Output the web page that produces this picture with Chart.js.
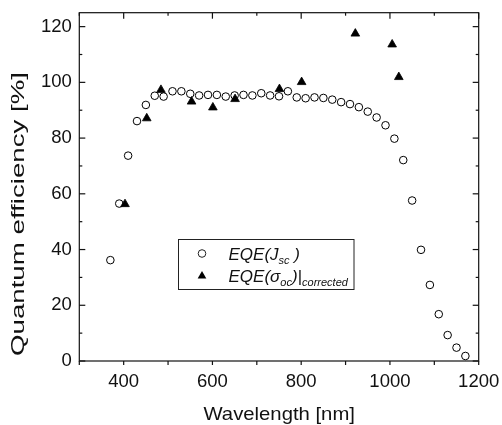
<!DOCTYPE html>
<html>
<head>
<meta charset="utf-8">
<script src="https://cdn.jsdelivr.net/npm/chart.js@4.4.1/dist/chart.umd.min.js"></script>
<style>
  html, body { margin: 0; padding: 0; background: #fff; }
  #wrap { width: 502px; height: 425px; position: relative; }
</style>
</head>
<body>
<div id="wrap"><canvas id="c" width="502" height="425"></canvas></div>
<script>
// EQE measured from the short-circuit current, every 20 nm
const wavelengthJsc = [370, 390, 410, 430, 450, 470, 490, 510, 530, 550, 570, 590, 610, 630, 650,
  670, 690, 710, 730, 750, 770, 790, 810, 830, 850, 870, 890, 910, 930, 950, 970, 990, 1010, 1030,
  1050, 1070, 1090, 1110, 1130, 1150, 1170];
const eqeJsc = [36.2, 56.5, 73.7, 86.1, 91.9, 95.2, 94.9, 96.8, 96.8, 95.9, 95.3, 95.5, 95.5, 94.9, 95.3,
  95.5, 95.3, 96.1, 95.3, 95.0, 96.8, 94.6, 94.3, 94.6, 94.4, 93.8, 92.9, 92.2, 91.1, 89.5, 87.4, 84.6, 79.8, 72.1,
  57.6, 39.9, 27.3, 16.8, 9.3, 4.8, 1.8];

// EQE derived from the open-circuit conductance (corrected)
const wavelengthSigma = [403, 452, 484, 553, 601, 651, 751, 801, 922, 1005, 1020];
const eqeSigma = [56.3, 87.1, 97.3, 93.1, 91.0, 94.0, 97.6, 100.1, 117.5, 113.6, 101.9];

// Axis ticks
const xTickValues = [400, 600, 800, 1000, 1200];
const xMinorTicks = [300, 500, 700, 900, 1100];
const yTickValues = [0, 20, 40, 60, 80, 100, 120];
const yMinorTicks = [10, 30, 50, 70, 90, 110];

const FONT = '"Liberation Sans", Arial, Helvetica, sans-serif';

// Text drawn at a given font size and stretched along its run to a set length
function fitText(ctx, text, cx, cy, size, length, angle) {
  ctx.save();
  ctx.font = size + 'px ' + FONT;
  const w = ctx.measureText(text).width;
  ctx.translate(cx, cy);
  ctx.rotate(angle);
  ctx.scale(length / w, 1);
  ctx.textAlign = 'center';
  ctx.textBaseline = 'middle';
  ctx.fillText(text, 0, 0);
  ctx.restore();
}

// Frame, tick marks, axis titles and the legend box
const decorations = {
  id: 'decorations',
  afterDatasetsDraw(chart) {
    const ctx = chart.ctx;
    const a = chart.chartArea;
    const xs = chart.scales.x, ys = chart.scales.y;
    ctx.save();
    ctx.strokeStyle = '#111';
    ctx.lineWidth = 1.2;
    ctx.strokeRect(a.left, a.top, a.right - a.left, a.bottom - a.top);

    const tick = (x1, y1, x2, y2) => { ctx.beginPath(); ctx.moveTo(x1, y1); ctx.lineTo(x2, y2); ctx.stroke(); };
    const xAll = xTickValues.map(v => [v, 6]).concat(xMinorTicks.map(v => [v, 3]));
    xAll.forEach(([v, len]) => {
      const px = xs.getPixelForValue(v);
      tick(px, a.top, px, a.top + len);
      tick(px, a.bottom, px, a.bottom + 4);
    });
    const yAll = yTickValues.map(v => [v, 6]).concat(yMinorTicks.map(v => [v, 3]));
    yAll.forEach(([v, len]) => {
      const py = ys.getPixelForValue(v);
      tick(a.left, py, a.left + len, py);
      tick(a.right, py, a.right - len, py);
    });

    // axis titles
    ctx.fillStyle = '#111';
    fitText(ctx, 'Wavelength [nm]', 279.2, 414.5, 18.5, 151.5, 0);
    fitText(ctx, 'Quantum efficiency [%]', 18.5, 214, 18.5, 284, -Math.PI / 2);

    // legend
    ctx.lineWidth = 1;
    ctx.strokeStyle = '#222';
    ctx.strokeRect(178.5, 239.5, 175.5, 50);
    ctx.beginPath();
    ctx.arc(202, 253.5, 3.8, 0, Math.PI * 2);
    ctx.stroke();
    ctx.beginPath();
    const tr = 5, tx = 202, ty = 276;
    ctx.moveTo(tx, ty - tr);
    ctx.lineTo(tx + tr * Math.sin(2 * Math.PI / 3), ty + tr / 2);
    ctx.lineTo(tx - tr * Math.sin(2 * Math.PI / 3), ty + tr / 2);
    ctx.closePath();
    ctx.fillStyle = '#000';
    ctx.fill();

    ctx.textAlign = 'left';
    ctx.textBaseline = 'alphabetic';
    ctx.fillStyle = '#111';
    const big = 'italic 17px ' + FONT, small = 'italic 11px ' + FONT;
    const run = (parts, x, y) => {
      parts.forEach(([txt, sub]) => {
        ctx.font = sub ? small : big;
        ctx.fillText(txt, x, y + (sub ? 4 : 0));
        x += ctx.measureText(txt).width;
      });
    };
    run([['EQE(J', 0], ['sc', 1], [' )', 0]], 228.5, 260);
    run([['EQE(\u03C3', 0], ['oc', 1], [')|', 0], ['corrected', 1]], 228.5, 282);
    ctx.restore();
  }
};

new Chart(document.getElementById('c'), {
  type: 'scatter',
  data: {
    datasets: [
      {
        label: 'EQE(Jsc)',
        data: wavelengthJsc.map((x, i) => ({ x, y: eqeJsc[i] })),
        pointStyle: 'circle',
        pointRadius: 3.8,
        borderWidth: 1,
        borderColor: '#000',
        backgroundColor: 'rgba(0,0,0,0)',
        order: 1
      },
      {
        label: 'EQE(σoc)|corrected',
        data: wavelengthSigma.map((x, i) => ({ x, y: eqeSigma[i] })),
        pointStyle: 'triangle',
        pointRadius: 5,
        borderWidth: 0.8,
        borderColor: '#000',
        backgroundColor: '#000',
        order: 0
      }
    ]
  },
  options: {
    responsive: false,
    animation: false,
    events: [],
    layout: { padding: { left: 0, right: 23.3, top: 12.7, bottom: 0 } },
    plugins: { legend: { display: false }, tooltip: { enabled: false } },
    scales: {
      x: {
        type: 'linear',
        min: 300, max: 1200,
        afterFit(s) { s.height = 64; s.paddingLeft = 0; s.paddingRight = 0; },
        afterBuildTicks(s) { s.ticks = xTickValues.map(v => ({ value: v })); },
        grid: { display: false, drawTicks: false },
        border: { display: false },
        ticks: { padding: 10, color: '#111', font: { family: FONT, size: 18.5 }, callback: v => String(v) }
      },
      y: {
        type: 'linear',
        min: 0, max: 125,
        afterFit(s) { s.width = 79.3; s.paddingTop = 0; s.paddingBottom = 0; },
        afterBuildTicks(s) { s.ticks = yTickValues.map(v => ({ value: v })); },
        grid: { display: false, drawTicks: false },
        border: { display: false },
        ticks: { padding: 7.5, color: '#111', font: { family: FONT, size: 18.5 }, callback: v => String(v) }
      }
    }
  },
  plugins: [decorations]
});
</script>
</body>
</html>
